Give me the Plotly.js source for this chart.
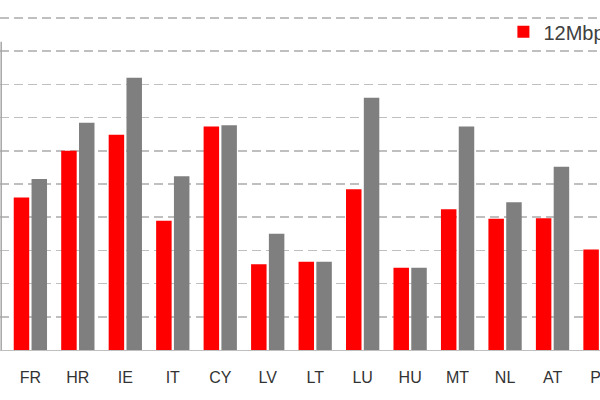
<!DOCTYPE html>
<html>
<head>
<meta charset="utf-8">
<script src="https://cdn.plot.ly/plotly-3.0.1.min.js"></script>
<style>html,body{margin:0;padding:0;background:#fff;}#chart{width:600px;height:400px;}</style>
</head>
<body>
<div id="chart"></div>
<script>
var countries = ["FR","HR","IE","IT","CY","LV","LT","LU","HU","MT","NL","AT","PL"];
var series12 = [45.9, 60.0, 64.8, 38.9, 67.3, 25.8, 26.6, 48.4, 24.8, 42.4, 39.5, 39.7, 30.3];
var series30 = [51.5, 68.4, 82.0, 52.3, 67.7, 35.0, 26.6, 76.0, 24.8, 67.3, 44.5, 55.2, 40.0];
var seriesNames = ["12Mbps", "30Mbps"];
var tickVals = [0,10,20,30,40,50,60,70,80,90,100];

var traces = [
  {type:"bar", name: seriesNames[0], x: countries, y: series12,
   marker:{color:"#ff0000"}, showlegend:true, hoverinfo:"none"},
  {type:"bar", name: seriesNames[1], x: countries, y: series30,
   marker:{color:"#7f7f7f"}, showlegend:false, hoverinfo:"none"}
];

var layout = {
  width:600, height:400,
  margin:{l:0, r:0, t:0, b:50, pad:0, autoexpand:false},
  paper_bgcolor:"#ffffff", plot_bgcolor:"#ffffff",
  barmode:"group", bargap:0.25, bargroupgap:0.13,
  font:{family:"Liberation Sans, Arial, sans-serif", color:"#404040"},
  xaxis:{type:"category", range:[-0.64, 12.0], showgrid:false,
         showline:true, linecolor:"#bfbfbf", linewidth:1,
         ticks:"", ticklabelstandoff:13,
         tickfont:{size:16, color:"#333333", family:"Liberation Sans, Arial, sans-serif"}},
  yaxis:{range:[0, 105.4], tickvals:tickVals, showticklabels:false,
         showgrid:true, gridcolor:"#bfbfbf", gridwidth:1.5, griddash:"9px,5px",
         zeroline:false, showline:false, ticks:""},
  legend:{orientation:"h", x:0.839, xanchor:"left", y:0.909, yanchor:"middle",
          bgcolor:"rgba(0,0,0,0)", font:{size:20, color:"#404040"}},
  shapes:[{type:"line", xref:"paper", yref:"y", x0:0.002, x1:0.002, y0:0, y1:92.8,
           line:{color:"#a6a6a6", width:1.5}}]
};

Plotly.newPlot("chart", traces, layout, {staticPlot:true, displayModeBar:false});
</script>
</body>
</html>
